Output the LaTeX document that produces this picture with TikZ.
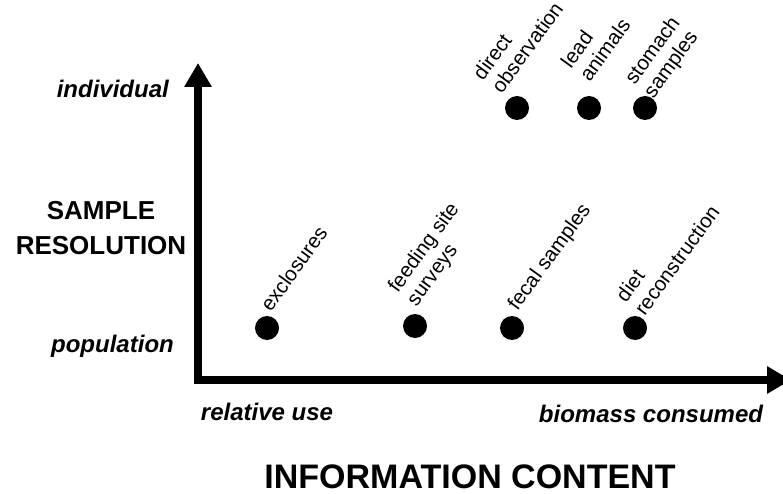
\documentclass[tikz,border=0pt]{standalone}
\usepackage{fontspec}
\setmainfont{Liberation Sans}
\usetikzlibrary{arrows.meta}
\begin{document}
\begin{tikzpicture}[x=1pt,y=-1pt,
  dot/.style={circle,fill=black,minimum size=24pt,inner sep=0pt},
  lab/.style={rotate=54,anchor=south west,align=left,inner sep=0pt,font=\fontsize{20.5}{23}\selectfont},
  axlab/.style={inner sep=0pt,font=\fontsize{24}{28}\selectfont\bfseries\itshape},
  bigtitle/.style={inner sep=0pt,align=center,font=\fontsize{26}{35}\selectfont\bfseries},
  axisline/.style={line width=8pt,-{Triangle[length=24pt,width=26pt]}}]
\useasboundingbox (0,0) rectangle (783,494);
% axes
\coordinate (origin) at (198,380);
\coordinate (xstart) at (194,380);
\coordinate (ytip) at (198,63);
\coordinate (xtip) at (791,380);
\draw[axisline] (origin) -- (ytip);
\draw[axisline] (xstart) -- (xtip);
% dots
\node[dot] (exc) at (267,328) {};
\node[dot] (feed) at (415,326) {};
\node[dot] (fec) at (512,328) {};
\node[dot] (diet) at (635,328) {};
\node[dot] (dir) at (517,108) {};
\node[dot] (lead) at (589,108) {};
\node[dot] (stom) at (645,108) {};
% rotated labels
\node[lab] (excl) at (271,313) {exclosures};
\node[lab] (feedl) at (420,310) {feeding site\\surveys};
\node[lab] (fecl) at (521,314) {fecal samples};
\node[lab] (dietl) at (645,317) {diet\\reconstruction};
\node[lab] (dirl) at (502,95) {direct\\observation};
\node[lab] (leadl) at (590,83) {lead\\animals};
\node[lab] (stoml) at (657,102) {stomach\\samples};
% axis labels
\node[axlab,anchor=base east] (ind) at (169,98) {individual};
\node[axlab,anchor=base east] (pop) at (174,352) {population};
\node[axlab,anchor=base] (rel) at (267,420) {relative use};
\node[axlab,anchor=base] (bio) at (651,422) {biomass consumed};
\node[bigtitle,anchor=north] (ylab) at (101,201) {SAMPLE\\RESOLUTION};
\node[bigtitle,anchor=base,font=\fontsize{34}{38}\selectfont\bfseries] (xlab) at (470,488) {INFORMATION CONTENT};
\end{tikzpicture}
\end{document}
